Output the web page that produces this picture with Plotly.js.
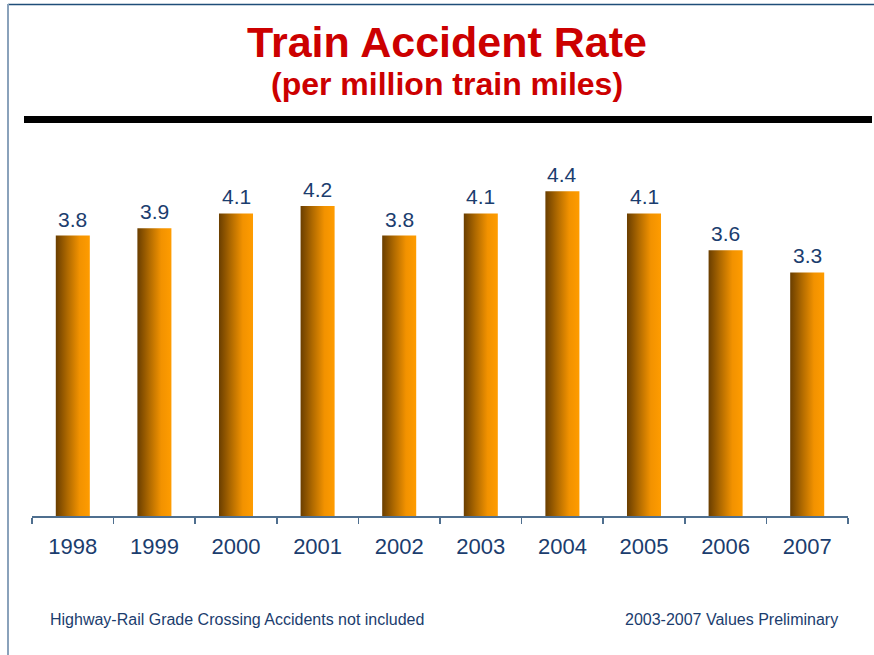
<!DOCTYPE html>
<html>
<head>
<meta charset="utf-8">
<script src="https://cdn.plot.ly/plotly-3.0.1.min.js"></script>
<style>
html,body{margin:0;padding:0;background:#fff;}
#chart{width:874px;height:655px;}
</style>
</head>
<body>
<div id="chart"></div>
<script>
const years = ["1998","1999","2000","2001","2002","2003","2004","2005","2006","2007"];
const rates = [3.8, 3.9, 4.1, 4.2, 3.8, 4.1, 4.4, 4.1, 3.6, 3.3];
const titleText = "Train Accident Rate";
const subtitleText = "(per million train miles)";
const noteLeft = "Highway-Rail Grade Crossing Accidents not included";
const noteRight = "2003-2007 Values Preliminary";

const blue = "#1b3d6e";
const font = "Liberation Sans, Arial, sans-serif";

const trace = {
  type: "bar",
  x: years,
  y: rates,
  marker: {color: "#d98200", line: {width: 0}},
  hoverinfo: "skip"
};

const annotations = years.map((yr, i) => ({
  x: i, y: rates[i], xref: "x", yref: "y",
  text: rates[i].toFixed(1), showarrow: false,
  yanchor: "bottom", yshift: 3,
  font: {family: font, size: 21, color: blue}
}));
const cx = 0.5 + 7 / 816;
annotations.push({
  xref: "paper", yref: "paper", x: cx, y: (516 - 84) / 369,
  text: "<b>" + subtitleText + "</b>", showarrow: false,
  xanchor: "center", yanchor: "middle",
  font: {family: font, size: 32, color: "#cc0000"}
});
annotations.push({
  xref: "paper", yref: "paper", x: (48 - 32) / 816, y: (516 - 619) / 369,
  text: noteLeft, showarrow: false, xanchor: "left", yanchor: "middle",
  font: {family: font, size: 16, color: blue}
});
annotations.push({
  xref: "paper", yref: "paper", x: (840 - 32) / 816, y: (516 - 619) / 369,
  text: noteRight, showarrow: false, xanchor: "right", yanchor: "middle",
  font: {family: font, size: 16, color: blue}
});

const shapes = [
  {type: "rect", xref: "paper", yref: "paper",
   x0: (24 - 32) / 816, x1: (872 - 32) / 816,
   y0: (516 - 123) / 369, y1: (516 - 116) / 369,
   fillcolor: "#000", line: {width: 0}},
  {type: "line", xref: "paper", yref: "paper",
   x0: (8 - 32) / 816, x1: (874 - 32) / 816,
   y0: (516 - 4.5) / 369, y1: (516 - 4.5) / 369,
   line: {color: "#1f4e79", width: 1.5}},
  {type: "line", xref: "paper", yref: "paper",
   x0: (8 - 32) / 816, x1: (8 - 32) / 816,
   y0: (516 - 4) / 369, y1: (516 - 660) / 369,
   line: {color: "#8aa2bb", width: 2}}
];

const layout = {
  width: 874, height: 655,
  margin: {l: 32, r: 26, t: 147, b: 139},
  paper_bgcolor: "#fff", plot_bgcolor: "#fff",
  showlegend: false,
  bargap: 0.583,
  title: {
    text: "<b>" + titleText + "</b>",
    x: cx, xref: "paper", xanchor: "center",
    y: 1 - 42 / 655, yref: "container", yanchor: "middle",
    font: {family: font, size: 43, color: "#cc0000"}
  },
  xaxis: {
    type: "category",
    range: [-0.5, years.length - 0.5],
    tickson: "boundaries",
    tickangle: 0,
    ticks: "outside", ticklen: 6, tickwidth: 1.5, tickcolor: "#4f6f8f",
    showline: true, linecolor: "#4f6f8f", linewidth: 1.5,
    showgrid: false, zeroline: false,
    tickfont: {family: font, size: 22, color: blue},
    ticklabelstandoff: 10
  },
  yaxis: {
    range: [0, 5], visible: false, showgrid: false, zeroline: false, fixedrange: true
  },
  annotations: annotations,
  shapes: shapes
};

Plotly.newPlot("chart", [trace], layout, {displayModeBar: false, staticPlot: true}).then(gd => {
  const svg = gd.querySelector("svg.main-svg");
  const ns = "http://www.w3.org/2000/svg";
  let defs = svg.querySelector("defs");
  if (!defs) { defs = document.createElementNS(ns, "defs"); svg.insertBefore(defs, svg.firstChild); }
  const g = document.createElementNS(ns, "linearGradient");
  g.setAttribute("id", "barGrad");
  g.setAttribute("x1", "0"); g.setAttribute("y1", "0");
  g.setAttribute("x2", "1"); g.setAttribute("y2", "0");
  [["0%", "#6a3e00"], ["35%", "#b06a00"], ["70%", "#f29200"], ["100%", "#ff9c00"]].forEach(([o, c]) => {
    const s = document.createElementNS(ns, "stop");
    s.setAttribute("offset", o); s.setAttribute("stop-color", c);
    g.appendChild(s);
  });
  defs.appendChild(g);
  gd.querySelectorAll(".barlayer .point path").forEach(p => { p.style.fill = "url(#barGrad)"; });
});
</script>
</body>
</html>
